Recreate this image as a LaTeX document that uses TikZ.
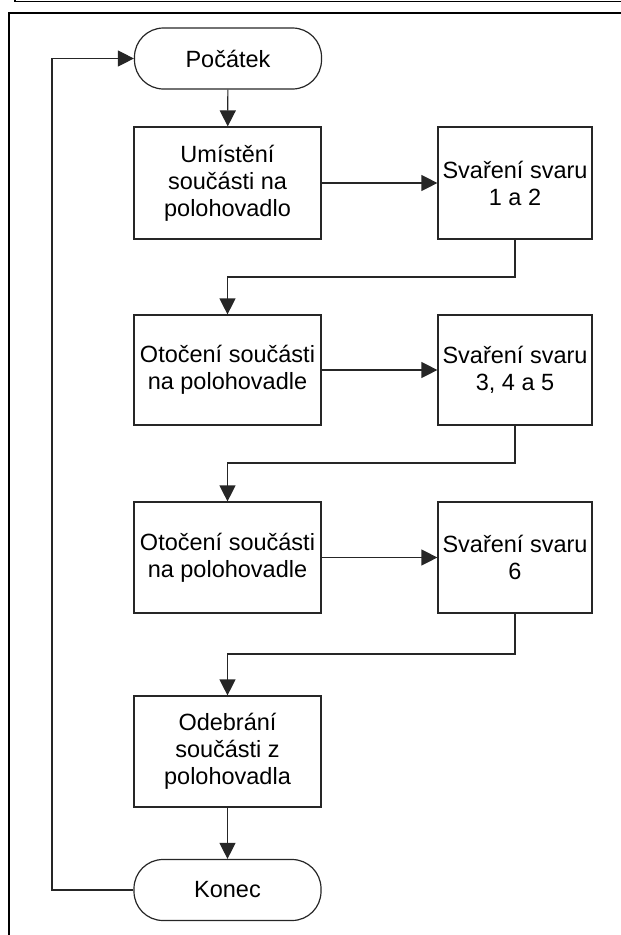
\documentclass[tikz,border=0pt]{standalone}
\usepackage{fontspec}
\setmainfont{Liberation Sans}
\usetikzlibrary{arrows.meta}
\begin{document}
\begin{tikzpicture}[x=1pt,y=-1pt,
  base/.style={draw=black!85, line width=1.2pt, align=center, inner sep=0pt,
    font=\fontsize{23.5}{27}\selectfont},
  proc/.style={base, minimum height=111pt},
  wide/.style={minimum width=187pt},
  narrow/.style={minimum width=154pt},
  term/.style={base, rounded corners=29pt, minimum width=187pt, minimum height=61pt},
  conn/.style={draw=black!85, line width=1.2pt},
  arr/.style={conn, -{Triangle[length=16pt,width=16pt]}},
  frame/.style={line width=1.6pt, black}]
\useasboundingbox (0,0) rectangle (621,935);
% frame
\coordinate (f1) at (15,0);
\coordinate (f2) at (15,1.5);
\coordinate (f3) at (621,1.5);
\draw[frame] (f1) -- (f2) -- (f3);
\coordinate (g1) at (9,935);
\coordinate (g2) at (9,13);
\coordinate (g3) at (621,13);
\draw[frame] (g1) -- (g2) -- (g3);
% nodes
\node[term] (start) at (228,58.5) {Počátek};
\node[proc,wide,minimum height=112pt] (b1) at (227.5,183) {Umístění\\součásti na\\polohovadlo};
\node[proc,narrow,minimum height=112pt] (b2) at (515,183) {Svaření svaru\\1 a 2};
\node[proc,wide,minimum height=110pt] (b3) at (227.5,370) {Otočení součásti\\na polohovadle};
\node[proc,narrow,minimum height=110pt] (b4) at (515,370) {Svaření svaru\\3, 4 a 5};
\node[proc,wide] (b5) at (227.5,557.5) {Otočení součásti\\na polohovadle};
\node[proc,narrow] (b6) at (515,557.5) {Svaření svaru\\6};
\node[proc,wide] (b7) at (227.5,751.5) {Odebrání\\součásti z\\polohovadla};
\node[term] (end) at (227.5,890) {Konec};
% connectors
\draw[arr] (start) -- (b1);
\draw[arr] (b1) -- (b2);
\coordinate (j1) at (515,277);
\draw[arr] (b2.south) -- (j1) -| (b3.north);
\draw[arr] (b3) -- (b4);
\coordinate (j2) at (515,463);
\draw[arr] (b4.south) -- (j2) -| (b5.north);
\draw[arr] (b5) -- (b6);
\coordinate (j3) at (515,654);
\draw[arr] (b6.south) -- (j3) -| (b7.north);
\draw[arr] (b7) -- (end);
\coordinate (l1) at (52,890);
\coordinate (l2) at (52,58.5);
\draw[arr] (end.west) -- (l1) -- (l2) -- (start.west);
\end{tikzpicture}
\end{document}
